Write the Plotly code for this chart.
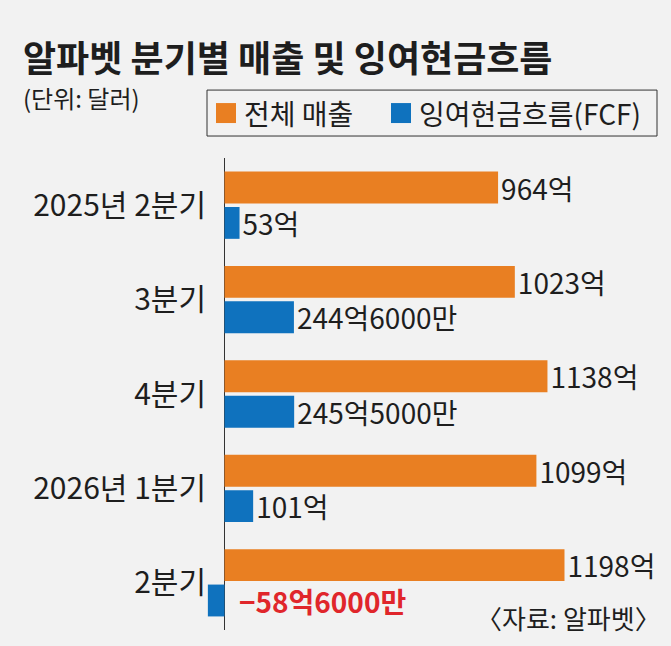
import plotly.graph_objects as go

categories = ["2025년 2분기", "3분기", "4분기", "2026년 1분기", "2분기"]
revenue = [964, 1023, 1138, 1099, 1198]          # 억 달러
fcf = [53, 244.6, 245.5, 101, -58.6]              # 억 달러
series_names = ["전체 매출", "잉여현금흐름(FCF)"]

def fmt(v):
    sign = "−" if v < 0 else ""
    a = abs(v)
    eok = int(a)
    man = int(round((a - eok) * 10000))
    s = f"{sign}{eok}억"
    if man:
        s += f"{man}만"
    return s

ORANGE = "#E97F22"
BLUE = "#0F72BE"
RED = "#E0262B"
BG = "#F2F2F2"
TXT = "#1E1E1E"
KR = "Noto Sans CJK KR"
NUM = "Noto Sans CJK KR"
COLORS = [ORANGE, BLUE]

W, H = 671, 646
L, R, T, B = 205, 0, 158, 15.5
pw, ph = W - L - R, H - T - B
xscale = 0.2838  # px per unit
xmin = -(224.5 - L) / xscale
xmax = xmin + pw / xscale

def px(x):
    return (x - L) / pw

def py(y):
    return (H - B - y) / ph

fig = go.Figure()
fig.add_trace(go.Bar(
    y=categories, x=revenue, orientation="h", name=series_names[0],
    marker=dict(color=ORANGE, line=dict(width=0)), showlegend=False,
    text=[fmt(v) for v in revenue], textposition="outside",
    textfont=dict(family=NUM, size=28, color=TXT), cliponaxis=False,
    constraintext="none",
))
fig.add_trace(go.Bar(
    y=categories, x=fcf, orientation="h", name=series_names[1],
    marker=dict(color=BLUE, line=dict(width=0)), showlegend=False,
    text=[fmt(v) if v >= 0 else "" for v in fcf],
    textposition=["outside" if v >= 0 else "none" for v in fcf],
    textfont=dict(family=NUM, size=28, color=TXT), cliponaxis=False,
    constraintext="none",
))

annotations = []
for c, v in zip(categories, fcf):
    if v < 0:
        annotations.append(dict(
            x=0, y=c, xref="x", yref="y", text=fmt(v), showarrow=False,
            xanchor="left", xshift=12, yshift=-18,
            font=dict(family=NUM, size=28, color=RED, weight="bold"),
        ))

annotations += [
    dict(x=px(21), y=py(56), xref="paper", yref="paper", text="알파벳 분기별 매출 및 잉여현금흐름",
         showarrow=False, xanchor="left", yanchor="middle",
         font=dict(family=KR, size=36, color=TXT, weight="bold")),
    dict(x=px(21), y=py(97), xref="paper", yref="paper", text="(단위: 달러)",
         showarrow=False, xanchor="left", yanchor="middle",
         font=dict(family=KR, size=24, color=TXT)),
    dict(x=px(663), y=py(618), xref="paper", yref="paper", text="〈자료: 알파벳〉",
         showarrow=False, xanchor="right", yanchor="middle",
         font=dict(family=KR, size=26, color=TXT)),
]

# manual legend (box, swatches, labels)
shapes = [dict(type="rect", xref="paper", yref="paper",
               x0=px(207), x1=px(657), y0=py(136), y1=py(90),
               line=dict(color="#333333", width=1), fillcolor=BG, layer="below")]
legend_x = [216, 391]
for lx, name, col in zip(legend_x, series_names, COLORS):
    shapes.append(dict(type="rect", xref="paper", yref="paper",
                       x0=px(lx), x1=px(lx + 20), y0=py(123), y1=py(103),
                       line=dict(width=0), fillcolor=col))
    annotations.append(dict(x=px(lx + 26), y=py(113), xref="paper", yref="paper",
                            text=name, showarrow=False, xanchor="left", yanchor="middle",
                            font=dict(family=KR, size=28, color=TXT)))

fig.update_layout(
    width=W, height=H,
    margin=dict(l=L, r=R, t=T, b=B, pad=0),
    paper_bgcolor=BG, plot_bgcolor=BG,
    barmode="group", bargap=0.25, bargroupgap=0.1,
    showlegend=False,
    annotations=annotations,
    shapes=shapes,
    xaxis=dict(range=[xmin, xmax], showgrid=False, showticklabels=False,
               zeroline=True, zerolinecolor="#333333", zerolinewidth=1,
               fixedrange=True),
    yaxis=dict(autorange="reversed", showgrid=False, showline=False, ticks="",
               tickfont=dict(family=KR, size=30, color=TXT),
               ticklabelstandoff=-2),
)

fig.write_html("out.html")
